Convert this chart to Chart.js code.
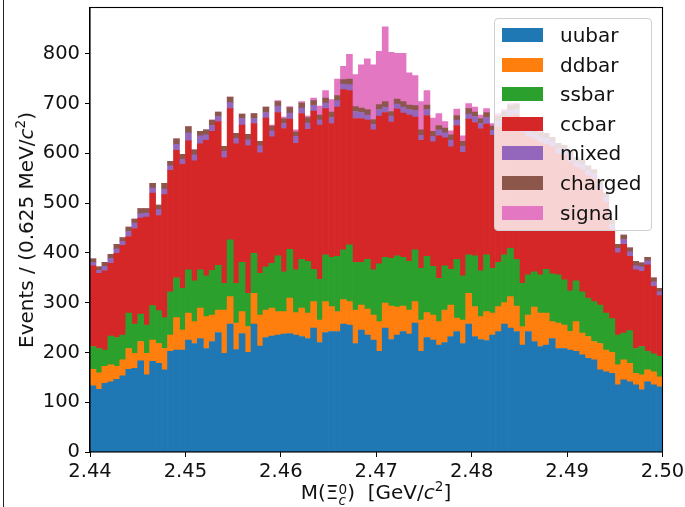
<!DOCTYPE html>
<html>
<head>
<meta charset="utf-8">
<script src="https://cdn.jsdelivr.net/npm/chart.js@4.4.1/dist/chart.umd.min.js"></script>
<style>
  body { margin: 0; background: #fff; font-family: "DejaVu Sans", sans-serif; }
  #wrap { position: relative; width: 685px; height: 507px; overflow: hidden; }
  #chart { position: absolute; left: 0; top: 0; }
  .edge { position: absolute; left: 3px; top: 0; width: 1px; height: 507px; background: #222; }
  #legend { position: absolute; left: 494px; top: 18px; width: 158px; height: 213px; box-sizing: border-box;
            border: 1px solid #d0d0d0; border-radius: 4px; background: rgba(255,255,255,0.8); }
  .row { position: absolute; left: 0; height: 30px; display: flex; align-items: center; }
  .patch { width: 41px; height: 14px; margin-left: 7px; }
  .lbl { margin-left: 17px; font-size: 20px; color: #111; }
  .ytitle { position: absolute; left: 26px; top: 230px; transform: translate(-50%, -50%) rotate(-90deg);
            white-space: nowrap; font-size: 20px; color: #111; }
  .xtitle { position: absolute; left: 376px; top: 493px; transform: translate(-50%, -50%);
            white-space: nowrap; font-size: 20px; color: #111; }
  .stk { display: inline-block; vertical-align: -0.45em; line-height: 0.85; font-size: 68%; text-align: left; }
  .stk span { display: block; }
  sup { font-size: 68%; line-height: 0; vertical-align: 0.6em; }
</style>
</head>
<body>
<div id="wrap">
  <canvas id="chart" width="685" height="507"></canvas>
  <div class="edge"></div>
  <div class="ytitle">Events / (0.625 MeV/<i>c</i><sup>2</sup>)</div>
  <div class="xtitle">M(Ξ<span class="stk"><span>0</span><span><i>c</i></span></span>)&nbsp;&nbsp;[GeV/<i>c</i><sup>2</sup>]</div>
  <div id="legend"></div>
</div>
<script>
// histogram binning: 96 bins of 0.625 MeV between 2.44 and 2.50 GeV
const binLow = 2.44;
const binWidth = 0.000625;
const nBins = 96;

const xTicks = [2.44, 2.45, 2.46, 2.47, 2.48, 2.49, 2.50];
const yTicks = [0, 100, 200, 300, 400, 500, 600, 700, 800];

const names = ['uubar', 'ddbar', 'ssbar', 'ccbar', 'mixed', 'charged', 'signal'];
const colors = ['#1f77b4', '#ff7f0e', '#2ca02c', '#d62728', '#9467bd', '#8c564b', '#e377c2'];

// events per bin
const uubar = [133,126,138,141,146,153,166,168,183,155,182,178,165,202,205,205,225,218,228,208,222,240,198,257,
  206,238,200,257,213,230,233,235,237,238,235,232,228,249,220,240,242,242,257,255,218,245,235,225,
  202,249,226,235,242,237,259,202,230,225,215,220,232,242,218,257,232,226,224,235,242,257,249,242,
  215,242,222,212,215,228,208,208,205,202,195,188,185,165,161,158,135,145,141,135,125,141,135,131];

const ddbar = [33,33,34,34,26,32,42,30,39,43,43,40,43,33,65,40,54,44,61,64,53,45,87,55,
  53,44,52,62,62,55,56,47,45,71,45,57,51,53,45,62,50,40,49,47,67,50,52,50,
  60,50,67,56,51,48,43,63,50,50,47,65,63,27,47,62,60,46,58,44,50,43,63,51,
  37,33,69,67,64,34,51,47,37,60,44,44,37,53,44,42,40,40,37,23,30,24,26,20];

const ssbar = [46,49,33,58,58,50,71,59,55,57,69,66,62,87,80,84,87,82,77,82,90,90,54,114,
  80,99,67,80,84,87,90,112,80,98,86,98,104,65,82,94,99,111,100,114,96,86,100,91,
  116,92,96,103,98,98,104,104,113,98,87,89,72,118,89,77,102,92,114,90,89,96,97,94,
  87,81,71,77,88,96,97,91,82,82,83,77,80,77,74,68,60,54,66,50,57,37,36,41];

const ccbar = [162,151,159,146,169,180,154,192,193,217,226,191,247,244,256,249,259,241,253,272,279,289,252,264,
  280,276,296,261,242,299,254,288,288,262,254,293,265,318,310,294,269,300,322,310,289,289,280,281,
  297,291,274,295,290,294,267,257,283,250,286,257,246,269,248,273,268,285,263,267,272,266,266,291,
  303,277,267,266,251,255,243,251,259,228,245,246,247,232,222,179,165,178,149,158,151,174,136,122];

const mixed = [7,6,9,10,9,8,10,11,9,8,10,12,11,9,12,10,16,12,16,11,12,10,13,12,
  11,13,12,10,14,11,12,13,10,12,14,11,13,12,10,11,12,13,11,12,14,12,10,11,
  13,11,12,10,12,11,13,10,12,11,12,10,13,11,12,10,12,11,13,10,12,11,12,10,
  11,12,10,11,12,10,11,10,12,11,10,11,10,9,11,10,9,10,9,8,9,8,9,8];

const charged = [7,7,8,8,9,8,9,8,10,9,10,9,12,9,11,10,13,10,9,10,11,9,10,11,
  10,9,11,10,9,11,10,9,10,11,9,10,11,9,10,10,11,10,9,11,10,9,11,10,
  10,11,9,10,11,9,10,11,9,10,9,10,11,9,10,11,9,10,10,9,10,11,9,10,
  9,10,11,9,10,9,10,9,10,9,10,9,8,9,8,9,8,9,8,9,8,7,8,7];

const signal = [0,0,0,0,0,0,0,0,0,0,0,0,0,0,0,0,0,0,0,0,0,0,0,0,
  0,0,0,0,0,0,2,2,3,2,4,3,3,5,18,15,25,33,27,50,64,87,102,110,
  107,150,119,92,97,65,60,57,29,27,24,13,8,13,11,10,10,7,8,5,5,4,4,3,
  3,2,2,2,0,0,0,0,0,0,0,0,0,0,0,0,0,0,0,0,0,0,0,0];

const series = [uubar, ddbar, ssbar, ccbar, mixed, charged, signal];

const binCenters = [];
for (let i = 0; i < nBins; i++) binCenters.push(binLow + (i + 0.5) * binWidth);

const font = { family: 'DejaVu Sans', size: 19.5 };

const frame = {
  id: 'frame',
  afterDraw(chart) {
    const { ctx, chartArea: a } = chart;
    ctx.save();
    ctx.strokeStyle = '#000';
    ctx.lineWidth = 1.1;
    ctx.strokeRect(a.left, a.top, a.right - a.left, a.bottom - a.top);
    ctx.restore();
  }
};

function noPad(s) {
  s.paddingTop = 0;
  s.paddingBottom = 0;
  s.paddingLeft = 0;
  s.paddingRight = 0;
}

new Chart(document.getElementById('chart'), {
  type: 'bar',
  data: {
    labels: binCenters,
    datasets: series.map((d, i) => ({
      label: names[i],
      data: d,
      backgroundColor: colors[i],
      borderWidth: 0,
      barPercentage: 1,
      categoryPercentage: 1
    }))
  },
  options: {
    responsive: false,
    animation: false,
    layout: { padding: { left: 0, right: 22.5, top: 7.5, bottom: 0 } },
    plugins: { legend: { display: false }, tooltip: { enabled: false } },
    scales: {
      x: {
        type: 'linear',
        stacked: true,
        offset: false,
        min: 2.44,
        max: 2.50,
        afterFit: s => { s.height = 55; noPad(s); },
        afterBuildTicks: s => { s.ticks = xTicks.map(v => ({ value: v })); },
        ticks: {
          maxRotation: 0,
          autoSkip: false,
          padding: 3,
          color: '#111',
          font: font,
          callback: v => v.toFixed(2)
        },
        grid: { offset: false, drawOnChartArea: false, drawTicks: true, tickLength: 5, tickColor: '#000', tickWidth: 1 },
        border: { color: '#000', width: 1.1 }
      },
      y: {
        stacked: true,
        min: 0,
        max: 893,
        afterFit: s => { s.width = 90; noPad(s); },
        afterBuildTicks: s => { s.ticks = yTicks.map(v => ({ value: v })); },
        ticks: {
          autoSkip: false,
          padding: 5,
          color: '#111',
          font: font,
          callback: v => String(v)
        },
        grid: { drawOnChartArea: false, drawTicks: true, tickLength: 5, tickColor: '#000', tickWidth: 1 },
        border: { color: '#000', width: 1.1 }
      }
    }
  },
  plugins: [frame]
});

// legend box drawn over the plot, like the matplotlib one
const legend = document.getElementById('legend');
names.forEach((n, i) => {
  const row = document.createElement('div');
  row.className = 'row';
  row.style.top = (1 + 29.6 * i) + 'px';
  row.innerHTML = '<div class="patch" style="background:' + colors[i] + '"></div><div class="lbl">' + n + '</div>';
  legend.appendChild(row);
});
</script>
</body>
</html>
